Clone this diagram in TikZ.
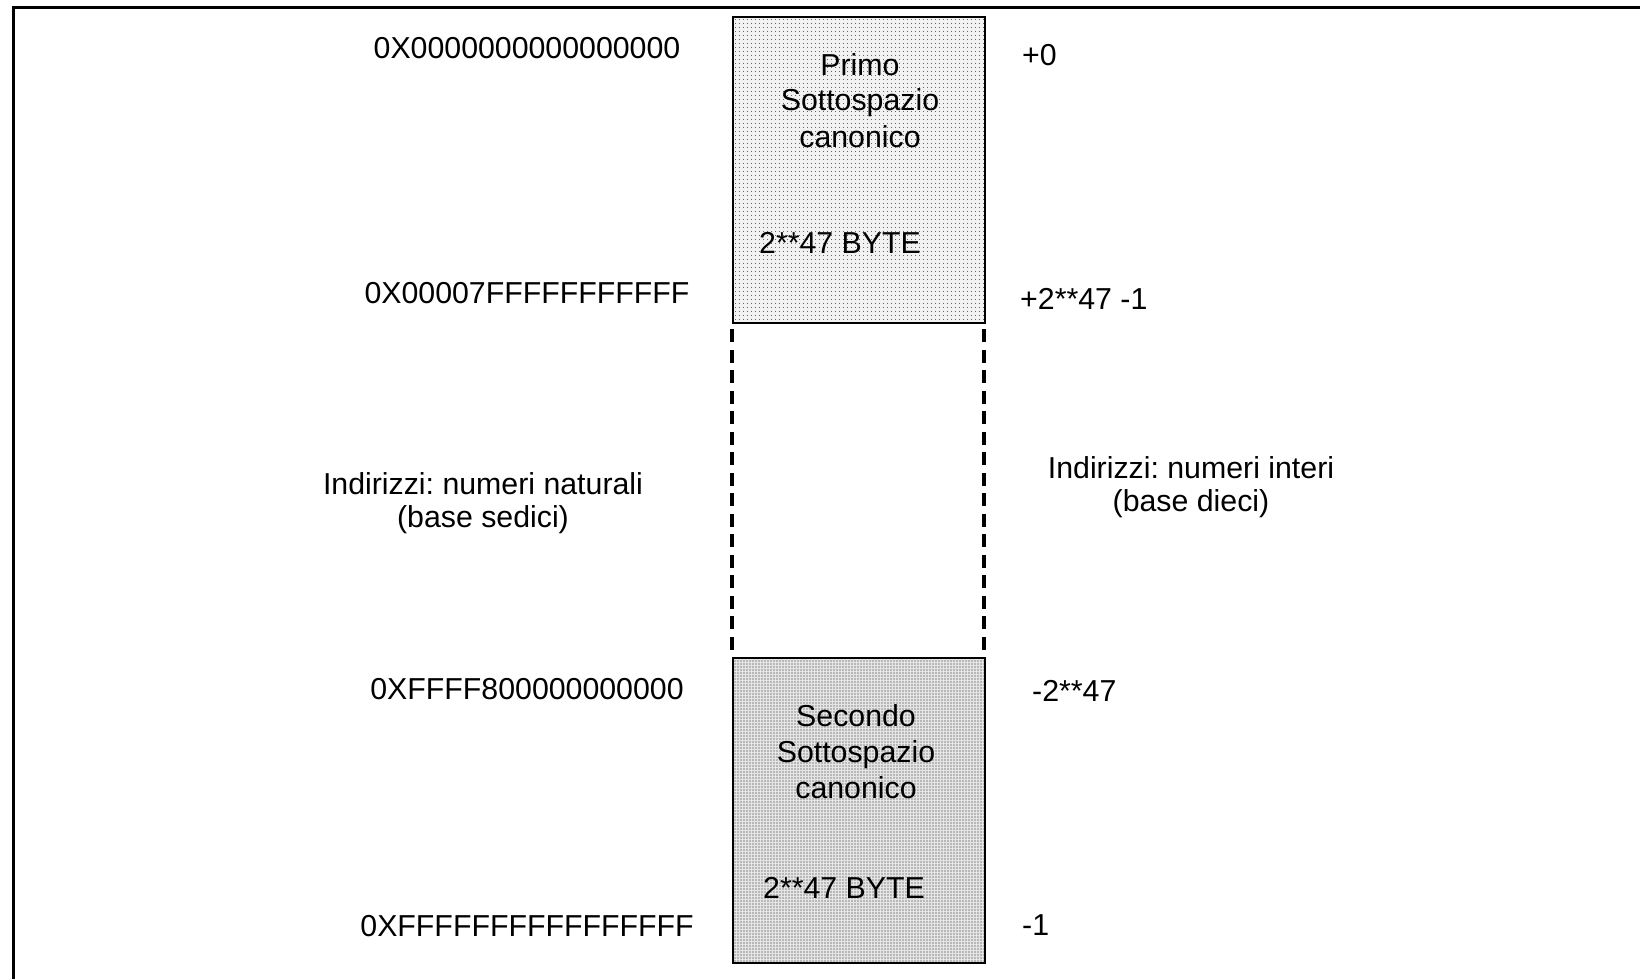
\documentclass[tikz,border=0pt]{standalone}
\usepackage{fontspec}
\setmainfont{Liberation Sans}
\usetikzlibrary{patterns.meta}
\frenchspacing
\begin{document}
\begin{tikzpicture}[x=1pt,y=-1pt,
  lbl/.style={inner sep=0pt,font=\fontsize{30.3}{32}\selectfont},
  boxlbl/.style={inner sep=0pt,align=center,font=\fontsize{30.3}{36}\selectfont},
  midlbl/.style={inner sep=0pt,align=center,font=\fontsize{30.3}{33}\selectfont},
  memblock/.style={draw=black,line width=2.5pt,minimum width=252pt,inner sep=0pt},
  gap/.style={line width=4pt,dash pattern=on 13pt off 7.5pt,shorten <=5pt,shorten >=3pt}
]
\useasboundingbox (0,0) rectangle (1640,979);
\draw[line width=3pt] (13,990) -- (13,8) -- (1650,8);
% blocks
\node[memblock,minimum height=306pt,
  preaction={fill=gray!10},
  pattern={Dots[distance=4pt,radius=0.6pt]},pattern color=black!80] (b1) at (859,170) {};
\node[memblock,minimum height=305pt,
  preaction={fill=gray!20},
  pattern={Dots[distance=3pt,radius=0.65pt]},pattern color=black!85] (b2) at (859,810.5) {};
\draw[gap] (b1.south west) -- (b2.north west);
\draw[gap] ([xshift=-2pt]b1.south east) -- ([xshift=-2pt]b2.north east);
% texts in blocks
\node[boxlbl,anchor=base] (t1) at (860,147) {Primo\\Sottospazio\\canonico};
\node[lbl,anchor=base west] (s1) at (759,253) {2**47 BYTE};
\node[boxlbl,anchor=base] (t2) at (856,798) {Secondo\\Sottospazio\\canonico};
\node[lbl,anchor=base west] (s2) at (763,898) {2**47 BYTE};
% hex labels
\node[lbl,anchor=base] (h1) at (527,59) {0X0000000000000000};
\node[lbl,anchor=base] (h2) at (527,303) {0X00007FFFFFFFFFFF};
\node[lbl,anchor=base] (h3) at (527,699) {0XFFFF800000000000};
\node[lbl,anchor=base] (h4) at (527,936) {0XFFFFFFFFFFFFFFFF};
% decimal labels
\node[lbl,anchor=base west] (d1) at (1022,66) {+0};
\node[lbl,anchor=base west] (d2) at (1020,309) {+2**47 -1};
\node[lbl,anchor=base west] (d3) at (1032,701) {-2**47};
\node[lbl,anchor=base west] (d4) at (1022,935) {-1};
% middle labels
\node[midlbl,anchor=base] (m1) at (483,527) {Indirizzi: numeri naturali\\(base sedici)};
\node[midlbl,anchor=base] (m2) at (1191,511) {Indirizzi: numeri interi\\(base dieci)};
\end{tikzpicture}
\end{document}
